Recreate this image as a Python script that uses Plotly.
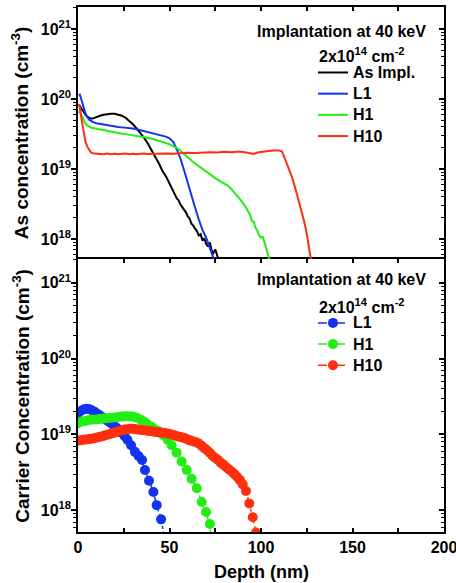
import plotly.graph_objects as go

# ---------------- data ----------------
# Top panel: SIMS As concentration (cm^-3) vs depth (nm)
asimpl_depth = [0.5, 1, 2, 3, 4, 5, 6, 7, 8, 9, 10, 12, 14, 16, 18, 20, 22, 24, 26, 28, 30, 32, 34, 36, 38, 40,
                42, 44, 46, 48, 50, 52, 54, 55, 56, 58, 59, 60, 61, 62, 63, 64, 65, 66, 67, 68, 69, 70, 71, 72,
                73, 74, 75, 76, 77]
asimpl_conc = [8.3e19, 7.9e19, 7.2e19, 6.6e19, 6.0e19, 5.6e19, 5.4e19, 5.25e19, 5.25e19, 5.4e19, 5.55e19,
               5.75e19, 5.95e19, 6.1e19, 6.15e19, 6.15e19, 6.0e19, 5.75e19, 5.4e19, 4.9e19, 4.35e19, 3.8e19,
               3.3e19, 2.8e19, 2.35e19, 1.9e19, 1.55e19, 1.23e19, 9.5e18, 7.9e18, 6.2e18, 4.8e18, 3.8e18,
               3.55e18, 3.1e18, 2.6e18, 2.4e18, 2.1e18, 1.95e18, 1.65e18, 1.55e18, 1.4e18, 1.3e18, 1.12e18,
               1.17e18, 9.5e17, 1.02e18, 8.5e17, 7.8e17, 8.9e17, 6.9e17, 6.3e17, 7.1e17, 5.9e17, 4.8e17]

l1_depth = [0.5, 1, 2, 3, 4, 5, 6, 7, 8, 10, 12, 14, 16, 18, 20, 22, 24, 26, 28, 30, 32, 34, 36, 38, 40, 42,
            44, 46, 48, 50, 52, 54, 56, 58, 60, 62, 64, 66, 68, 70, 72, 74, 75]
l1_conc = [1.12e20, 1.15e20, 9.5e19, 7.6e19, 6.3e19, 5.6e19, 5.1e19, 4.9e19, 4.7e19, 4.5e19, 4.4e19, 4.3e19,
           4.2e19, 4.1e19, 4.0e19, 3.98e19, 3.93e19, 3.9e19, 3.85e19, 3.8e19, 3.7e19, 3.6e19, 3.5e19, 3.4e19,
           3.27e19, 3.16e19, 3.1e19, 3.0e19, 2.9e19, 2.75e19, 2.45e19, 1.9e19, 1.4e19, 9.5e18, 6.2e18, 4.2e18,
           2.8e18, 1.9e18, 1.35e18, 1.05e18, 7.4e17, 5.2e17, 4.5e17]

h1_depth = [0.5, 1, 2, 3, 4, 5, 6, 7, 8, 10, 12, 14, 16, 18, 20, 22, 24, 26, 28, 30, 32, 34, 36, 38, 40, 42,
            44, 46, 48, 50, 52, 54, 56, 58, 60, 62, 64, 66, 68, 70, 72, 74, 76, 78, 80, 82, 84, 86, 88, 90,
            92, 94, 95, 96, 97, 98, 99, 100, 101, 102, 103, 104, 105]
h1_conc = [6.3e19, 6.6e19, 5.75e19, 5.0e19, 4.45e19, 4.2e19, 4.0e19, 3.9e19, 3.85e19, 3.75e19, 3.67e19,
           3.6e19, 3.5e19, 3.43e19, 3.35e19, 3.27e19, 3.2e19, 3.16e19, 3.1e19, 3.02e19, 2.95e19, 2.92e19,
           2.85e19, 2.8e19, 2.72e19, 2.63e19, 2.5e19, 2.43e19, 2.35e19, 2.24e19, 2.14e19, 2.0e19, 1.82e19,
           1.62e19, 1.45e19, 1.32e19, 1.2e19, 1.1e19, 1.0e19, 9.1e18, 8.3e18, 7.6e18, 7.1e18, 6.6e18,
           6.2e18, 5.75e18, 5.1e18, 4.45e18, 3.8e18, 3.3e18, 2.75e18, 2.2e18, 1.8e18, 1.78e18, 1.45e18,
           1.32e18, 1.12e18, 1.05e18, 1.07e18, 8.3e17, 7.1e17, 5.75e17, 4.6e17]

h10_depth = [0.5, 1, 2, 3, 4, 5, 6, 7, 8, 10, 12, 14, 16, 18, 20, 22, 24, 26, 28, 30, 32, 34, 36, 38, 40, 44,
             48, 52, 56, 60, 64, 68, 72, 76, 80, 84, 88, 92, 96, 98, 100, 104, 107, 110, 111.5, 113, 115,
             117, 119, 121, 123, 124.5, 125.5, 126.5, 127.5]
h10_conc = [8.5e19, 7.6e19, 5.0e19, 3.3e19, 2.5e19, 2.1e19, 1.86e19, 1.74e19, 1.68e19, 1.64e19, 1.64e19,
            1.62e19, 1.66e19, 1.63e19, 1.65e19, 1.62e19, 1.64e19, 1.66e19, 1.63e19, 1.65e19, 1.62e19,
            1.645e19, 1.66e19, 1.64e19, 1.65e19, 1.63e19, 1.67e19, 1.65e19, 1.68e19, 1.7e19, 1.69e19,
            1.72e19, 1.74e19, 1.72e19, 1.76e19, 1.74e19, 1.77e19, 1.72e19, 1.64e19, 1.72e19, 1.76e19,
            1.8e19, 1.83e19, 1.84e19, 1.78e19, 1.41e19, 1.07e19, 7.6e18, 5.0e18, 3.3e18, 2.05e18, 1.4e18,
            1.0e18, 7.0e17, 4.8e17]

# Bottom panel: carrier concentration (cm^-3) vs depth (nm)
cl1_depth = [0, 1.5, 3, 4.5, 6, 7.5, 9, 10.5, 12, 13.5, 15, 16.5, 18, 19.5, 21, 22.5, 24, 25.5, 27, 29, 31.1,
             33.1, 35.0, 36.6, 38.8, 41.2, 43.0, 45.4, 47.5]
cl1_conc = [1.9e19, 2.04e19, 2.14e19, 2.19e19, 2.16e19, 2.09e19, 2.0e19, 1.88e19, 1.78e19, 1.68e19, 1.58e19,
            1.5e19, 1.41e19, 1.32e19, 1.23e19, 1.15e19, 1.05e19, 9.5e18, 8.5e18, 7.2e18, 5.9e18, 5.2e18,
            4.6e18, 3.4e18, 2.45e18, 1.74e18, 1.17e18, 7.6e17, 4.0e17]

ch1_depth = [0, 2, 4, 6, 8, 10, 12, 14, 16, 18, 20, 22, 24, 26, 28, 30, 32, 34, 36, 38, 40, 42, 44, 46.6, 49,
             51.2, 53.9, 56.6, 59.4, 62.1, 64.9, 67.6, 70.0, 72.1, 73]
ch1_conc = [1.41e19, 1.48e19, 1.51e19, 1.55e19, 1.57e19, 1.58e19, 1.6e19, 1.62e19, 1.64e19, 1.66e19, 1.68e19,
            1.7e19, 1.72e19, 1.74e19, 1.74e19, 1.72e19, 1.66e19, 1.58e19, 1.48e19, 1.35e19, 1.26e19,
            1.17e19, 1.1e19, 9.8e18, 8.5e18, 7.2e18, 5.75e18, 4.4e18, 3.4e18, 2.6e18, 1.95e18, 1.29e18,
            9.5e17, 6.6e17, 3.2e17]

ch10_depth = [0, 1.5, 3, 4.5, 6, 7.5, 9, 10.5, 12, 13.5, 15, 16.5, 18, 19.5, 21, 22.5, 24, 25.5, 27, 28.5,
              30, 31.5, 33, 34.5, 36, 37.5, 39, 40.5, 42, 43.5, 45, 46.5, 48, 49.5, 51, 52.5, 54, 55.5, 57,
              58.5, 60, 61.5, 63, 64.5, 66, 67.5, 69, 70.5, 72, 73.5, 75, 76.5, 78, 79.5, 81, 82.5, 84, 85.5,
              87, 88.5, 90, 91.8, 93.6, 95.5, 97.3, 98.5]
ch10_conc = [8.3e18, 8.4e18, 8.5e18, 8.6e18, 8.7e18, 8.8e18, 8.9e18, 9.1e18, 9.3e18, 9.5e18, 9.8e18, 1.0e19,
             1.02e19, 1.05e19, 1.07e19, 1.11e19, 1.135e19, 1.16e19, 1.175e19, 1.19e19, 1.19e19, 1.175e19,
             1.16e19, 1.15e19, 1.135e19, 1.12e19, 1.11e19, 1.1e19, 1.08e19, 1.07e19, 1.06e19, 1.05e19,
             1.035e19, 1.02e19, 1.0e19, 9.8e18, 9.5e18, 9.3e18, 9.1e18, 8.9e18, 8.6e18, 8.3e18, 8.1e18,
             7.9e18, 7.6e18, 7.1e18, 6.6e18, 6.2e18, 5.75e18, 5.25e18, 4.9e18, 4.6e18, 4.25e18, 4.0e18,
             3.7e18, 3.45e18, 3.25e18, 3.0e18, 2.75e18, 2.5e18, 2.2e18, 1.8e18, 1.23e18, 8.1e17, 5.1e17,
             3.2e17]

x_major = [0, 50, 100, 150, 200]
x_major_text = ["0", "50", "100", "150", "200"]
x_minor = [25, 75, 125, 175]
y_major = [1e18, 1e19, 1e20, 1e21]
y_major_text = ["10<sup>18</sup>", "10<sup>19</sup>", "10<sup>20</sup>", "10<sup>21</sup>"]
y_minor = [float(m) * 10.0 ** e for e in (17, 18, 19, 20, 21) for m in range(2, 10)]

BLACK = "#000000"
BLUE = "#1034f0"
GREEN = "#22ee14"
RED = "#ff2e0c"

FONT = "Liberation Sans, Arial, sans-serif"
Y_RANGE = [17.714, 21.314]
X_RANGE = [0, 200]

def leg_name(s):
    return "<span style='font-size:16px'>" + s + "</span>"

fig = go.Figure()

# top panel traces (xaxis2 / yaxis2)
for name, xs, ys, col in [("As Impl.", asimpl_depth, asimpl_conc, BLACK),
                          ("L1", l1_depth, l1_conc, BLUE),
                          ("H1", h1_depth, h1_conc, GREEN),
                          ("H10", h10_depth, h10_conc, RED)]:
    fig.add_trace(go.Scatter(x=xs, y=ys, name=leg_name(name), mode="lines",
                             line=dict(color=col, width=2),
                             xaxis="x2", yaxis="y2", legend="legend"))

# bottom panel traces (xaxis / yaxis)
for name, xs, ys, col in [("L1", cl1_depth, cl1_conc, BLUE),
                          ("H1", ch1_depth, ch1_conc, GREEN),
                          ("H10", ch10_depth, ch10_conc, RED)]:
    fig.add_trace(go.Scatter(x=xs, y=ys, name=leg_name(name), mode="lines+markers",
                             line=dict(color=col, width=1.5, dash="dashdot"),
                             marker=dict(color=col, size=10),
                             xaxis="x", yaxis="y", legend="legend2"))

# dummy traces so the right-hand tick axes are drawn
fig.add_trace(go.Scatter(x=[], y=[], xaxis="x2", yaxis="y3", showlegend=False, hoverinfo="skip"))
fig.add_trace(go.Scatter(x=[], y=[], xaxis="x", yaxis="y4", showlegend=False, hoverinfo="skip"))

tickfont = dict(family=FONT, size=16, color="black", weight="bold")

def yax(domain, anchor):
    return dict(type="log", range=Y_RANGE, domain=domain, anchor=anchor, automargin=False,
                tickmode="array", tickvals=y_major, ticktext=y_major_text,
                ticks="outside", ticklen=5, tickwidth=1.5, tickcolor="black",
                ticklabelstandoff=-3,
                minor=dict(tickmode="array", tickvals=y_minor, ticks="outside", ticklen=3,
                           tickwidth=1, tickcolor="black", showgrid=False),
                showline=True, linewidth=1.5, linecolor="black", mirror=True,
                showgrid=False, zeroline=False, tickfont=tickfont)

def yright(overlay, anchor):
    return dict(type="log", range=Y_RANGE, overlaying=overlay, anchor=anchor, side="right",
                automargin=False,
                tickmode="array", tickvals=y_major, showticklabels=False,
                ticks="inside", ticklen=5, tickwidth=1.5, tickcolor="black",
                minor=dict(tickmode="array", tickvals=y_minor, ticks="inside", ticklen=3,
                           tickwidth=1, tickcolor="black", showgrid=False),
                showline=False, showgrid=False, zeroline=False)

legfont = dict(family=FONT, size=14, color="black", weight="bold")

fig.update_layout(
    width=456, height=583,
    margin=dict(l=78, r=12, t=7, b=51, autoexpand=False),
    paper_bgcolor="white", plot_bgcolor="white",
    font=dict(family=FONT, color="black"),
    xaxis=dict(domain=[0, 1], anchor="y", range=X_RANGE, tickmode="array", automargin=False,
               tickvals=x_major, ticktext=x_major_text, ticks="inside", ticklen=4,
               tickwidth=1.5, tickcolor="black", ticklabeloverflow="allow",
               minor=dict(tickmode="array", tickvals=x_minor, ticks="inside", ticklen=4,
                          tickwidth=1.5, tickcolor="black", showgrid=False),
               showline=True, linewidth=1.5,
               linecolor="black", mirror="ticks", showgrid=False, zeroline=False,
               tickfont=tickfont),
    xaxis2=dict(domain=[0, 1], anchor="y2", side="top", range=X_RANGE, tickmode="array",
                automargin=False,
                tickvals=x_major, showticklabels=False, ticks="inside", ticklen=4,
                tickwidth=1.5, tickcolor="black",
                minor=dict(tickmode="array", tickvals=x_minor, ticks="inside", ticklen=4,
                           tickwidth=1.5, tickcolor="black", showgrid=False),
                showline=True, linewidth=1.5,
                linecolor="black", mirror=False, showgrid=False, zeroline=False),
    yaxis=yax([0, 0.52], "x"),
    yaxis2=yax([0.52, 1], "x2"),
    yaxis3=yright("y2", "x2"),
    yaxis4=yright("y", "x"),
    legend=dict(x=0.642, y=0.905, xanchor="left", yanchor="top", font=legfont,
                bgcolor="rgba(0,0,0,0)", tracegroupgap=0, itemwidth=30),
    legend2=dict(x=0.642, y=0.428, xanchor="left", yanchor="top", font=legfont,
                 bgcolor="rgba(0,0,0,0)", tracegroupgap=0, itemwidth=30),
    showlegend=True,
)

ann_font = dict(family=FONT, size=16, color="black")
annotations = [
    dict(text="<b>Implantation at 40 keV</b>", x=0.956, y=0.953, xanchor="right", yanchor="middle"),
    dict(text="<b>2x10<sup>14</sup> cm<sup>-2</sup></b>", x=0.653, y=0.908, xanchor="left", yanchor="middle"),
    dict(text="<b>Implantation at 40 keV</b>", x=0.956, y=0.481, xanchor="right", yanchor="middle"),
    dict(text="<b>2x10<sup>14</sup> cm<sup>-2</sup></b>", x=0.653, y=0.431, xanchor="left", yanchor="middle"),
]
for a in annotations:
    fig.add_annotation(xref="paper", yref="paper", showarrow=False, font=ann_font, **a)

# axis titles
fig.add_annotation(text="<b>Depth (nm)</b>", xref="paper", yref="paper", x=0.5, y=-0.076,
                   xanchor="center", yanchor="middle", showarrow=False,
                   font=dict(family=FONT, size=18, color="black"))
fig.add_annotation(text="<b>As concentration (cm<sup>-3</sup>)</b>", xref="paper", yref="paper",
                   x=-0.158, y=0.76, xanchor="center", yanchor="middle", textangle=-90,
                   showarrow=False, font=dict(family=FONT, size=19, color="black"))
fig.add_annotation(text="<b>Carrier Concentration (cm<sup>-3</sup>)</b>", xref="paper", yref="paper",
                   x=-0.158, y=0.26, xanchor="center", yanchor="middle", textangle=-90,
                   showarrow=False, font=dict(family=FONT, size=19, color="black"))

fig.write_html("out.html")
